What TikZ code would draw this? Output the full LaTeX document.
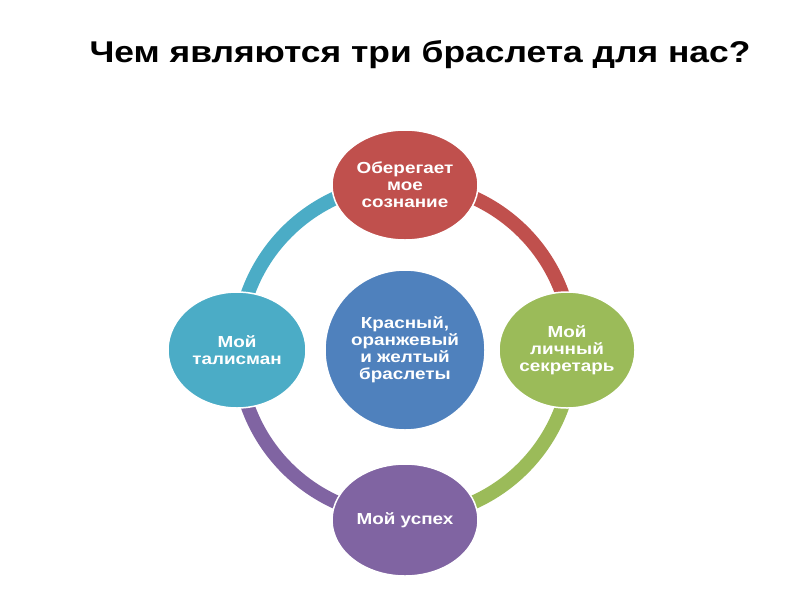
\documentclass[tikz,border=0pt]{standalone}
\usepackage{fontspec}
\setmainfont{Liberation Sans}
\newfontfamily\widefont[FakeStretch=1.18]{Liberation Sans}
\usetikzlibrary{shapes.geometric}
\begin{document}
\begin{tikzpicture}[x=1pt,y=-1pt,
  bub/.style={ellipse,draw=white,line width=1.5pt,minimum width=#1,text=white,font=\widefont\fontsize{16}{17}\selectfont\bfseries,align=center,inner sep=0pt},
  ring/.style={line width=14pt}]
\definecolor{cblue}{HTML}{4F81BD}
\definecolor{cred}{HTML}{C0504D}
\definecolor{cgreen}{HTML}{9BBB59}
\definecolor{cpurple}{HTML}{8064A2}
\definecolor{cteal}{HTML}{4BACC6}
\useasboundingbox (0,0) rectangle (800,600);
\node[font=\widefont\fontsize{30}{32}\selectfont\bfseries] (title) at (420,55) {Чем являются три браслета для нас?};
\coordinate (c) at (405,350);
\draw[ring,cred] ([shift={(-90:167)}]c) arc[start angle=-90,end angle=0,radius=167];
\draw[ring,cgreen] ([shift={(0:167)}]c) arc[start angle=0,end angle=90,radius=167];
\draw[ring,cpurple] ([shift={(90:167)}]c) arc[start angle=90,end angle=180,radius=167];
\draw[ring,cteal] ([shift={(180:167)}]c) arc[start angle=180,end angle=270,radius=167];
\node[circle,fill=cblue,draw=white,line width=1.5pt,minimum size=160pt,text=white,align=center,inner sep=0pt,font=\widefont\fontsize{16}{17}\selectfont\bfseries] (mid) at (c) {Красный,\\оранжевый\\и желтый\\браслеты};
\node[bub=146pt,minimum height=110pt,fill=cred] (top) at (405,185) {Оберегает\\мое\\сознание};
\node[bub=136pt,minimum height=116pt,fill=cgreen] (right) at (567,350) {Мой\\личный\\секретарь};
\node[bub=146pt,minimum height=112pt,fill=cpurple] (bot) at (405,520) {Мой успех};
\node[bub=138pt,minimum height=116pt,fill=cteal] (left) at (237,350) {Мой\\талисман};
\end{tikzpicture}
\end{document}
